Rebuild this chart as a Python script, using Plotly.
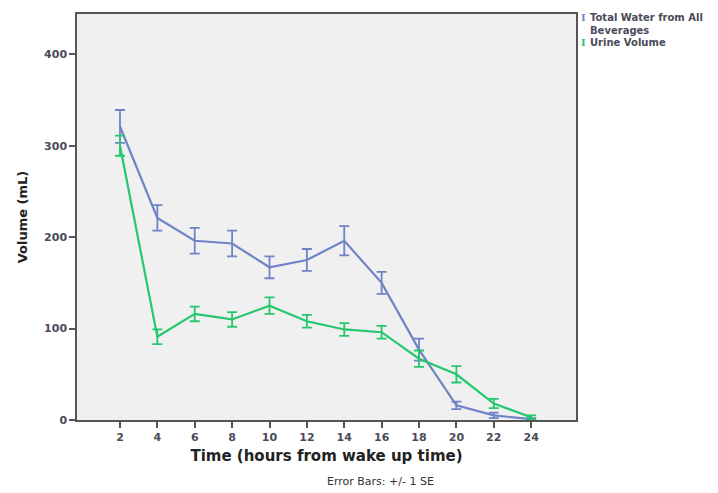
import plotly.graph_objects as go

# Time points (hours from wake up)
hours = [2, 4, 6, 8, 10, 12, 14, 16, 18, 20, 22, 24]

# Mean total water from all beverages (mL) and its standard error
water_mean = [321, 221, 196, 193, 167, 175, 196, 150, 77, 16, 5, 1]
water_se = [18, 14, 14, 14, 12, 12, 16, 12, 12, 4, 3, 1]

# Mean urine volume (mL) and its standard error
urine_mean = [300, 91, 116, 110, 125, 108, 99, 96, 67, 50, 18, 3]
urine_se = [11, 8, 8, 8, 9, 7, 7, 7, 9, 9, 5, 2]

y_ticks = [0, 100, 200, 300, 400]
x_ticks = hours

blue = "#6f83c6"
green = "#25c86f"
label_color = "#4a4a58"

fig = go.Figure()

fig.add_trace(go.Scatter(
    x=hours, y=water_mean, mode="lines",
    name="Total Water from All Beverages",
    line=dict(color=blue, width=2.2),
    error_y=dict(type="data", array=water_se, visible=True,
                 color=blue, thickness=1.8, width=5),
    showlegend=False,
))
fig.add_trace(go.Scatter(
    x=hours, y=urine_mean, mode="lines",
    name="Urine Volume",
    line=dict(color=green, width=2.2),
    error_y=dict(type="data", array=urine_se, visible=True,
                 color=green, thickness=1.8, width=5),
    showlegend=False,
))

fig.update_layout(
    width=718, height=493,
    margin=dict(l=77, r=142, t=14, b=73),
    paper_bgcolor="white",
    plot_bgcolor="#f0f0f0",
    font=dict(family="DejaVu Sans", color=label_color, size=11),
    xaxis=dict(
        range=[-0.3, 26.4], tickvals=x_ticks,
        ticktext=[f"<b>{t}</b>" for t in x_ticks],
        ticks="outside", ticklen=6, tickcolor="#555", tickwidth=1.5,
        showgrid=False, zeroline=False,
        showline=True, linecolor="#555", linewidth=1.5, mirror=True,
        tickfont=dict(size=11, color=label_color),
        title=dict(text="<b>Time (hours from wake up time)</b>",
                   font=dict(size=15, color="#222"), standoff=8),
    ),
    yaxis=dict(
        range=[0, 444], tickvals=y_ticks,
        ticktext=[f"<b>{t}</b>" for t in y_ticks],
        ticks="outside", ticklen=6, tickcolor="#555", tickwidth=1.5,
        showgrid=False, zeroline=False,
        showline=True, linecolor="#555", linewidth=1.5, mirror=True,
        tickfont=dict(size=11, color=label_color),
        title=dict(text="<b>Volume (mL)</b>",
                   font=dict(size=13, color="#222"), standoff=14),
    ),
)

# Legend entries drawn as small error-bar glyphs with labels
plot_w = 718 - 77 - 142
plot_h = 493 - 14 - 73


def paper_y(ypix):
    return 1 - (ypix - 14) / plot_h


legend_glyphs = [(blue, 10), (green, 35)]
for color, ypix in legend_glyphs:
    fig.add_annotation(
        xref="paper", yref="paper",
        x=(579 - 77) / plot_w, y=paper_y(ypix),
        text="<b>I</b>", showarrow=False, xanchor="left", yanchor="top",
        font=dict(family="DejaVu Serif", size=10, color=color),
    )

legend_lines = [("Total Water from All", 10), ("Beverages", 22.5),
                ("Urine Volume", 35)]
for text, ypix in legend_lines:
    fig.add_annotation(
        xref="paper", yref="paper",
        x=(588 - 77) / plot_w, y=paper_y(ypix),
        text=f"<b>{text}</b>", showarrow=False, xanchor="left",
        yanchor="top",
        font=dict(family="DejaVu Sans", size=10, color=label_color),
    )

fig.add_annotation(
    xref="paper", yref="paper",
    x=(380 - 77) / plot_w, y=-(482 - 420) / plot_h,
    text="Error Bars: +/- 1 SE", showarrow=False,
    xanchor="center", yanchor="middle",
    font=dict(family="DejaVu Sans", size=11, color="#333"),
)

fig.write_html("out.html")
